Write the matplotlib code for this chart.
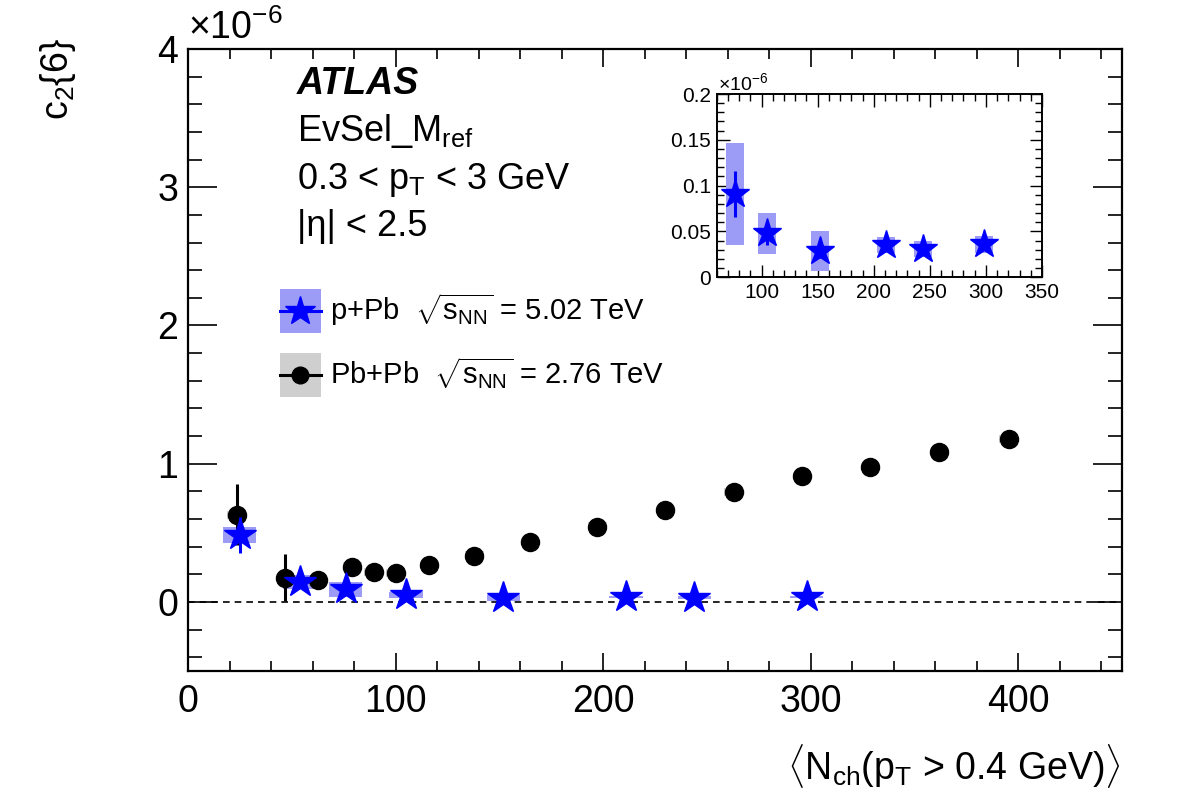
"""
c2{6} vs <Nch> for p+Pb and Pb+Pb (ATLAS style), with inset zoom on p+Pb.
"""
import matplotlib
matplotlib.use("Agg")
import matplotlib.pyplot as plt
from matplotlib.patches import Rectangle
from matplotlib.lines import Line2D
from matplotlib.ticker import MultipleLocator

plt.rcParams["font.family"] = ["Liberation Sans", "DejaVu Sans"]
plt.rcParams["mathtext.fontset"] = "custom"
plt.rcParams["mathtext.rm"] = "Liberation Sans"
plt.rcParams["mathtext.it"] = "Liberation Sans:italic"
plt.rcParams["mathtext.bf"] = "Liberation Sans:bold"

# p+Pb 5.02 TeV (values in units of 1e-6)
ppb_x = [25, 54, 76, 105, 152, 211, 244, 298]
ppb_y = [0.485, 0.142, 0.091, 0.048, 0.029, 0.035, 0.031, 0.036]
ppb_stat = [0.13, 0.03, 0.025, 0.013, 0.008, 0.005, 0.005, 0.005]
ppb_syst = [0.06, 0.05, 0.056, 0.0225, 0.022, 0.009, 0.0085, 0.0095]

# Pb+Pb 2.76 TeV
pbpb_x = [23.4, 46.7, 62.4, 79.1, 89.5, 100.1, 116.2, 137.9,
          164.7, 197.2, 230.0, 262.9, 295.8, 328.8, 362.0, 395.4]
pbpb_y = [0.63, 0.174, 0.16, 0.255, 0.215, 0.21, 0.268, 0.335,
          0.432, 0.545, 0.663, 0.796, 0.909, 0.974, 1.083, 1.177]
pbpb_stat = [0.22, 0.17, 0.03, 0.02, 0.02, 0.015, 0.015, 0.01,
             0.01, 0.01, 0.01, 0.01, 0.01, 0.01, 0.01, 0.01]
pbpb_syst = [0.03] * 16

INSET_XMIN = 60

BLUE = "#0000ff"
BOX_BLUE = "#9c9cf6"
BOX_GRAY = "#cfcfcf"
W, H = 1182, 800


def fx(px):
    return px / W


def fy(py):
    return 1 - py / H


fig = plt.figure(figsize=(W / 100, H / 100), dpi=100)
ax = fig.add_axes([fx(188), fy(671), fx(1122) - fx(188), fy(49) - fy(671)])

# systematic boxes
ax.bar(pbpb_x, [2 * s for s in pbpb_syst], width=9,
       bottom=[y - s for y, s in zip(pbpb_y, pbpb_syst)],
       color=BOX_GRAY, linewidth=0, zorder=1)
ax.bar(ppb_x, [2 * s for s in ppb_syst], width=16,
       bottom=[y - s for y, s in zip(ppb_y, ppb_syst)],
       color=BOX_BLUE, linewidth=0, zorder=2)

ax.axhline(0, color="black", linestyle=(0, (4, 3)), linewidth=1.2, zorder=1.5)

ax.errorbar(pbpb_x, pbpb_y, yerr=pbpb_stat, fmt="o", color="black",
            markersize=13, elinewidth=2.2, capsize=0, zorder=3)
ax.errorbar(ppb_x, ppb_y, yerr=ppb_stat, fmt="*", color=BLUE,
            markersize=24, elinewidth=2.2, capsize=0, zorder=4)

ax.set_xlim(0, 450)
ax.set_ylim(-0.5, 4)
ax.xaxis.set_major_locator(MultipleLocator(100))
ax.xaxis.set_minor_locator(MultipleLocator(20))
ax.yaxis.set_major_locator(MultipleLocator(1))
ax.yaxis.set_minor_locator(MultipleLocator(0.2))
ax.tick_params(axis="both", which="both", direction="in", top=True, right=True,
               width=1.2, labelsize=27)
ax.tick_params(axis="x", which="major", length=13, pad=9)
ax.tick_params(axis="x", which="minor", length=7)
ax.tick_params(axis="y", which="major", length=21, pad=7)
ax.tick_params(axis="y", which="minor", length=10)
for sp in ax.spines.values():
    sp.set_linewidth(1.6)

fig.text(fx(188), fy(47), r"$\times$10$^{\mathregular{-6}}$", fontsize=27,
         ha="left", va="bottom")
fig.text(fx(1121), fy(779), r"$\langle$N$_{\mathregular{ch}}$(p$_{\mathregular{T}}$ > 0.4 GeV)$\rangle$",
         fontsize=27, ha="right", va="baseline")
fig.text(fx(58), fy(38), r"c$_{\mathregular{2}}$$\{$6$\}$", fontsize=27,
         rotation=90, ha="center", va="top")

# labels
fig.text(fx(297), fy(94), "ATLAS", fontsize=27, fontweight="bold",
         style="italic", ha="left", va="baseline")
fig.text(fx(297), fy(141), r"EvSel_M$_{\mathregular{ref}}$", fontsize=26,
         ha="left", va="baseline")
fig.text(fx(297), fy(189), r"0.3 < p$_{\mathregular{T}}$ < 3 GeV", fontsize=26,
         ha="left", va="baseline")
fig.text(fx(297), fy(236), "|η| < 2.5", fontsize=26, ha="left", va="baseline")

# legend (drawn by hand, ROOT style)
leg = [
    (BOX_BLUE, BLUE, "*", 22, 311,
     r"p+Pb  $\sqrt{\mathregular{s}_{\mathregular{NN}}}$ = 5.02 TeV"),
    (BOX_GRAY, "black", "o", 12, 375,
     r"Pb+Pb  $\sqrt{\mathregular{s}_{\mathregular{NN}}}$ = 2.76 TeV"),
]
for box_c, c, m, ms, yc, label in leg:
    fig.patches.append(Rectangle((fx(280), fy(yc + 22)), fx(41), 44 / H,
                                 transform=fig.transFigure, color=box_c,
                                 linewidth=0))
    fig.lines.append(Line2D([fx(280), fx(321)], [fy(yc), fy(yc)],
                            transform=fig.transFigure, color=c, linewidth=2.2))
    fig.lines.append(Line2D([fx(300.5)], [fy(yc)], transform=fig.transFigure,
                            color=c, marker=m, markersize=ms, linestyle="none"))
    fig.text(fx(330), fy(yc + 9), label, fontsize=21, ha="left", va="baseline")

# inset: only the p+Pb points inside its x range
sel = [i for i, x in enumerate(ppb_x) if x > INSET_XMIN]
in_x = [ppb_x[i] for i in sel]
in_y = [ppb_y[i] for i in sel]
in_stat = [ppb_stat[i] for i in sel]
in_syst = [ppb_syst[i] for i in sel]

axi = fig.add_axes([fx(716.7), fy(277.3), fx(1042) - fx(716.7), fy(94) - fy(277.3)])
axi.bar(in_x, [2 * s for s in in_syst], width=16,
        bottom=[y - s for y, s in zip(in_y, in_syst)],
        color=BOX_BLUE, linewidth=0, zorder=2)
axi.errorbar(in_x, in_y, yerr=in_stat, fmt="*", color=BLUE,
             markersize=21, elinewidth=2.2, capsize=0, zorder=4)
axi.set_xlim(INSET_XMIN, 350)
axi.set_ylim(0, 0.2)
axi.xaxis.set_major_locator(MultipleLocator(50))
axi.xaxis.set_minor_locator(MultipleLocator(10))
axi.yaxis.set_major_locator(MultipleLocator(0.05))
axi.yaxis.set_minor_locator(MultipleLocator(0.01))
axi.set_yticks([0, 0.05, 0.1, 0.15, 0.2], ["0", "0.05", "0.1", "0.15", "0.2"])
axi.set_xticks([100, 150, 200, 250, 300, 350])
axi.tick_params(axis="both", which="both", direction="in", top=True, right=True,
                width=1.0, labelsize=15)
axi.tick_params(axis="both", which="major", length=9, pad=4)
axi.tick_params(axis="both", which="minor", length=5)
for sp in axi.spines.values():
    sp.set_linewidth(1.4)
fig.text(fx(718), fy(94), r"$\times$10$^{\mathregular{-6}}$", fontsize=14,
         ha="left", va="bottom")

fig.savefig("out.png", dpi=100)
